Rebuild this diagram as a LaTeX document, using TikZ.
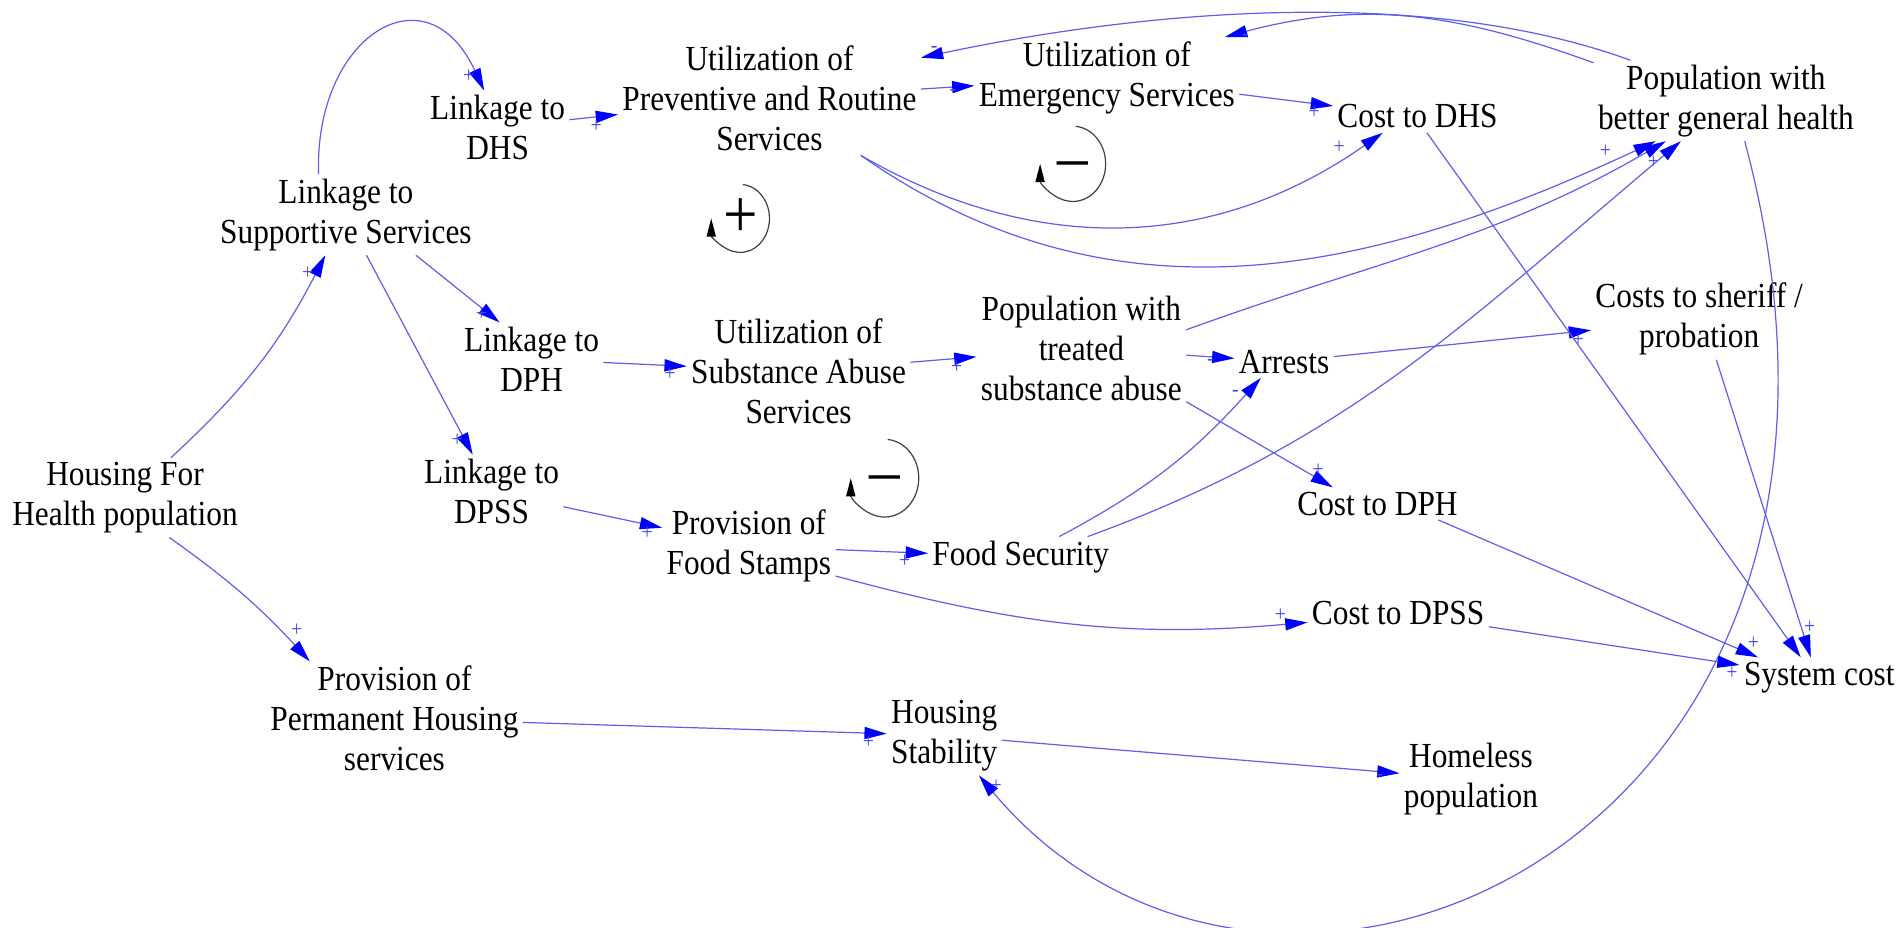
\documentclass[tikz,border=0pt]{standalone}
\usepackage{fontspec}
\setmainfont{Liberation Serif}[FakeStretch=0.89]
\usepackage{tikz}
\usetikzlibrary{arrows.meta}

\definecolor{linkblue}{RGB}{95,95,235}
\definecolor{signblue}{RGB}{70,70,240}

\begin{document}
\begin{tikzpicture}[x=0.6pt, y=0.6pt,
  var/.style={align=center, inner sep=2pt, font=\rmfamily\fontsize{17.4}{19.8}\selectfont},
  link/.style={draw=linkblue, line width=0.6pt, -{Triangle[length=11pt,width=6pt,color=blue]}},
  sgn/.style={text=signblue, inner sep=1pt, font=\fontsize{11}{11}\selectfont},
  loopsym/.style={inner sep=0pt, font=\fontsize{34}{34}\selectfont},
  looparc/.style={draw=black!75, line width=0.6pt, -{Triangle[length=9pt,width=4.5pt,color=black]}}]
\useasboundingbox (0,0) rectangle (1568,764);

% variables
\node[var] (hfh) at (103,354) {Housing For\\Health population};
\node[var] (lss) at (285,587) {Linkage to\\Supportive Services};
\node[var] (ldhs) at (410,659) {Linkage to\\DHS};
\node[var] (ldph) at (438,468) {Linkage to\\DPH};
\node[var] (ldpss) at (405,359) {Linkage to\\DPSS};
\node[var] (pphs) at (325,172) {Provision of\\Permanent Housing\\services};
\node[var] (uprs) at (634,683) {Utilization of\\Preventive and Routine\\Services};
\node[var] (ues) at (912,700) {Utilization of\\Emergency Services};
\node[var] (cdhs) at (1168,668) {Cost to DHS};
\node[var] (pgh) at (1422,681) {Population with\\better general health};
\node[var] (usas) at (658,458) {Utilization of\\Substance Abuse\\Services};
\node[var] (ptsa) at (891,477) {Population with\\treated\\substance abuse};
\node[var] (arr) at (1058,466) {Arrests};
\node[var] (csp) at (1400,501) {Costs to sheriff /\\probation};
\node[var] (cdph) at (1135,349) {Cost to DPH};
\node[var] (pfs) at (617,314) {Provision of\\Food Stamps};
\node[var] (fs) at (841,305) {Food Security};
\node[var] (cdpss) at (1152,259) {Cost to DPSS};
\node[var] (sc) at (1499,206) {System cost};
\node[var] (hs) at (778,158) {Housing\\Stability};
\node[var] (hp) at (1212,122) {Homeless\\population};

% loop markers
\node[loopsym] (lpos) at (610,584) {+};
\draw[looparc] (lpos.center) ++(85:24 and 28) arc[start angle=85, end angle=-180, x radius=24, y radius=28];
\node[loopsym, text height=15.3pt, text depth=0pt] (lnegtop) at (884,629) {--};
\draw[looparc] (lnegtop.center) ++(85:27 and 31) arc[start angle=85, end angle=-180, x radius=27, y radius=31];
\node[loopsym, text height=15.3pt, text depth=0pt] (lnegmid) at (729,370) {--};
\draw[looparc] (lnegmid.center) ++(85:28 and 32) arc[start angle=85, end angle=-180, x radius=28, y radius=32];

% links from the left side
\draw[link] (hfh.41) to[bend right=10] node[sgn,pos=.93,left] (s1) {+} (lss.243);
\draw[link] (hfh.318) to[bend left=6] node[sgn,pos=.85,above right] (s2) {+} (pphs.146);
\draw[link] (lss.124) to[out=92,in=115,looseness=1.9] node[sgn,pos=.96,left] (s3) {+} (ldhs.110);
\draw[link] (lss.330) -- node[sgn,pos=.88,left] (s4) {+} (ldph.131);
\draw[link] (lss.297) -- node[sgn,pos=.93,left] (s5) {+} (ldpss.117);
\draw[link] (ldhs) -- node[sgn,pos=.55,below] (s6) {+} (uprs);
\draw[link] (ldph) -- node[sgn,pos=.8,below] (s7) {+} (usas);
\draw[link] (ldpss) -- node[sgn,pos=.85,below] (s8) {+} (pfs);
\draw[link] (pphs) -- node[sgn,pos=.95,below] (s9) {+} (hs);

% health services
\draw[link] (uprs) -- node[sgn,pos=.6,below] (s10) {-} (ues);
\draw[link] (ues) -- node[sgn,pos=.8,below] (s11) {+} (cdhs);
\draw[link] (uprs.328) to[out=-30,in=215] node[sgn,pos=.93,above left] (s12) {+} (cdhs.205);
\draw[link] (uprs.328) to[out=-35,in=205] node[sgn,pos=.95,above left] (s13) {+} (pgh.210);
\draw[link] (pgh.157) to[out=160,in=12,looseness=.8] node[sgn,pos=.98,above] (s14) {-} (uprs.15);
\draw[link] (pgh.164) to[out=160,in=15] node[sgn,pos=.95,below] (s15) {-} (ues.19);
\draw[link] (pgh.295) to[out=-75,in=-50,out distance=360pt,in distance=228pt] node[sgn,pos=.99,right] (s16) {+} (hs.311);

% substance abuse and food
\draw[link] (usas) -- node[sgn,pos=.7,below] (s17) {+} (ptsa);
\draw[link] (ptsa.10) to[out=20,in=210] node[sgn,pos=.96,below right] (s18) {+} (pgh.214);
\draw[link] (ptsa) -- node[sgn,pos=.5,below] (s19) {-} (arr);
\draw[link] (ptsa.333) -- node[sgn,pos=.9,above] (s20) {+} (cdph.160);
\draw[link] (pfs) -- node[sgn,pos=.75,below] (s21) {+} (fs);
\draw[link] (pfs.341) to[out=-15,in=185] node[sgn,pos=.95,above] (s22) {+} (cdpss.186);
\draw[link] (fs.28) to[out=28,in=228] node[sgn,pos=.9,above left] (s23) {-} (arr.215);
\draw[link] (fs.17) to[out=20,in=220] (pgh.222);
\draw[link] (arr) -- node[sgn,pos=.95,below] (s24) {+} (csp);

% costs
\draw[link] (cdhs.300) -- (sc.133);
\draw[link] (csp.293) -- node[sgn,pos=.9,right] (s25) {+} (sc.113);
\draw[link] (cdph.345) -- node[sgn,pos=.96,above right] (s26) {+} (sc.162);
\draw[link] (cdpss) -- node[sgn,pos=.97,below] (s27) {+} (sc);
\draw[link] (hs) -- node[sgn,pos=.95,below] (s28) {-} (hp);
\end{tikzpicture}
\end{document}
